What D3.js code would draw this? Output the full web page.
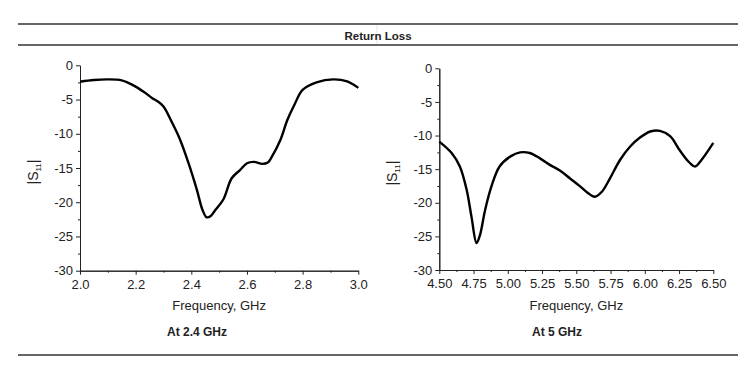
<!DOCTYPE html>
<html>
<head>
<meta charset="utf-8">
<script src="https://cdn.jsdelivr.net/npm/d3@7/dist/d3.min.js"></script>
<style>
  body { margin: 0; background: #fff; }
  svg { display: block; font-family: "Liberation Sans", Arial, sans-serif; }
  .axis path, .axis line { stroke: #222; }
  .axis text { fill: #222; }
</style>
</head>
<body>
<svg id="chart" width="751" height="368"></svg>
<script>
// 2.4 GHz band
const freq24 = [2.00, 2.05, 2.10, 2.15, 2.19, 2.23, 2.26, 2.28, 2.30, 2.33, 2.36, 2.39, 2.42, 2.44, 2.455, 2.47, 2.485, 2.515, 2.545, 2.575, 2.60, 2.625, 2.655, 2.675, 2.69, 2.72, 2.745, 2.77, 2.80, 2.85, 2.91, 2.96, 3.00];
const s11_24 = [-2.4, -2.15, -2.05, -2.2, -2.9, -3.9, -4.8, -5.3, -6.0, -8.3, -10.9, -14.3, -18.2, -21.1, -22.2, -22.0, -21.2, -19.6, -16.5, -15.3, -14.3, -14.1, -14.4, -14.2, -13.3, -10.9, -8.0, -5.8, -3.6, -2.5, -2.05, -2.35, -3.3];

// 5 GHz band
const freq5 = [4.50, 4.59, 4.65, 4.70, 4.735, 4.772, 4.797, 4.834, 4.88, 4.94, 5.02, 5.09, 5.16, 5.235, 5.31, 5.38, 5.455, 5.53, 5.575, 5.635, 5.685, 5.745, 5.82, 5.89, 5.965, 6.04, 6.11, 6.185, 6.255, 6.32, 6.367, 6.415, 6.50];
const s11_5 = [-10.9, -12.6, -14.6, -18.1, -22.1, -26.0, -24.8, -21.1, -17.6, -14.6, -13.1, -12.5, -12.6, -13.4, -14.4, -15.2, -16.4, -17.6, -18.4, -19.1, -18.4, -16.4, -13.6, -11.7, -10.3, -9.4, -9.3, -10.1, -12.2, -13.9, -14.6, -13.6, -11.1];

const yTicks = [0, -5, -10, -15, -20, -25, -30];
const yMinor = [-2.5, -7.5, -12.5, -17.5, -22.5, -27.5];
const xTicks24 = [2.0, 2.2, 2.4, 2.6, 2.8, 3.0];
const xMinor24 = [2.1, 2.3, 2.5, 2.7, 2.9];
const xTicks5 = [4.50, 4.75, 5.00, 5.25, 5.50, 5.75, 6.00, 6.25, 6.50];
const xMinor5 = [4.625, 4.875, 5.125, 5.375, 5.625, 5.875, 6.125, 6.375];

const svg = d3.select('#chart');

// rules + title
[24, 45, 355].forEach(yy => {
  svg.append('line').attr('x1', 18).attr('x2', 738).attr('y1', yy).attr('y2', yy)
    .attr('stroke', '#333').attr('stroke-width', 1.5);
});
svg.append('line').attr('x1', 377).attr('x2', 377).attr('y1', 25).attr('y2', 44)
  .attr('stroke', '#e4e4e4').attr('stroke-width', 1);
svg.append('text').attr('x', 378).attr('y', 40).attr('text-anchor', 'middle')
  .attr('font-size', '11.5px').attr('font-weight', 'bold').attr('fill', '#222')
  .text('Return Loss');

function drawPanel(p) {
  const x = d3.scaleLinear().domain(p.xDomain).range([p.left, p.right]);
  const y = d3.scaleLinear().domain([0, -30]).range([p.top, p.bottom]);

  // minor ticks
  svg.append('g').attr('class', 'axis')
    .attr('transform', `translate(0,${p.bottom})`)
    .call(d3.axisBottom(x).tickValues(p.xMinor).tickSize(2).tickSizeOuter(0).tickFormat(''));
  svg.append('g').attr('class', 'axis')
    .attr('transform', `translate(${p.left},0)`)
    .call(d3.axisLeft(y).tickValues(yMinor).tickSize(2).tickSizeOuter(0).tickFormat(''));

  // major ticks
  const fx = d3.format(p.fmt);
  svg.append('g').attr('class', 'axis')
    .attr('transform', `translate(0,${p.bottom})`)
    .call(d3.axisBottom(x).tickValues(p.xTicks).tickSize(4).tickSizeOuter(0)
      .tickPadding(5).tickFormat(d => fx(d)))
    .attr('font-size', 13).attr('font-family', '"Liberation Sans", Arial, sans-serif');
  svg.append('g').attr('class', 'axis')
    .attr('transform', `translate(${p.left},0)`)
    .call(d3.axisLeft(y).tickValues(yTicks).tickSize(4).tickSizeOuter(0).tickPadding(3)
      .tickFormat(d => String(d)))
    .attr('font-size', 13).attr('font-family', '"Liberation Sans", Arial, sans-serif');

  // curve
  const line = d3.line()
    .x((d, i) => x(p.freq[i]))
    .y(d => y(d))
    .curve(d3.curveCatmullRom.alpha(0.5));
  svg.append('path').datum(p.vals)
    .attr('d', line)
    .attr('fill', 'none').attr('stroke', '#000').attr('stroke-width', 2.4)
    .attr('stroke-linejoin', 'round');

  // y label |S11|
  const yl = svg.append('text')
    .attr('transform', `translate(${p.yLabelX},${(p.top + p.bottom) / 2 + 4}) rotate(-90)`)
    .attr('text-anchor', 'middle').attr('font-size', '14px').attr('fill', '#222');
  yl.append('tspan').text('|S');
  yl.append('tspan').attr('font-size', '8px').attr('dy', 3).text('11');
  yl.append('tspan').attr('dy', -3).text('|');

  // x label
  svg.append('text').attr('x', (p.left + p.right) / 2).attr('y', 310)
    .attr('text-anchor', 'middle').attr('font-size', '13px').attr('fill', '#222')
    .text('Frequency, GHz');

  // caption
  svg.append('text').attr('x', p.captionX).attr('y', 336)
    .attr('text-anchor', 'middle').attr('font-size', '12px').attr('font-weight', 'bold')
    .attr('fill', '#222').text(p.caption);
}

drawPanel({
  xDomain: [2.0, 3.0], left: 80, right: 358.3, top: 65.3, bottom: 270.7,
  xTicks: xTicks24, xMinor: xMinor24, fmt: '.1f',
  freq: freq24, vals: s11_24, yLabelX: 38, captionX: 197, caption: 'At 2.4 GHz'
});

drawPanel({
  xDomain: [4.5, 6.5], left: 439.3, right: 713.3, top: 68.3, bottom: 270,
  xTicks: xTicks5, xMinor: xMinor5, fmt: '.2f',
  freq: freq5, vals: s11_5, yLabelX: 397, captionX: 557, caption: 'At 5 GHz'
});
</script>
</body>
</html>
